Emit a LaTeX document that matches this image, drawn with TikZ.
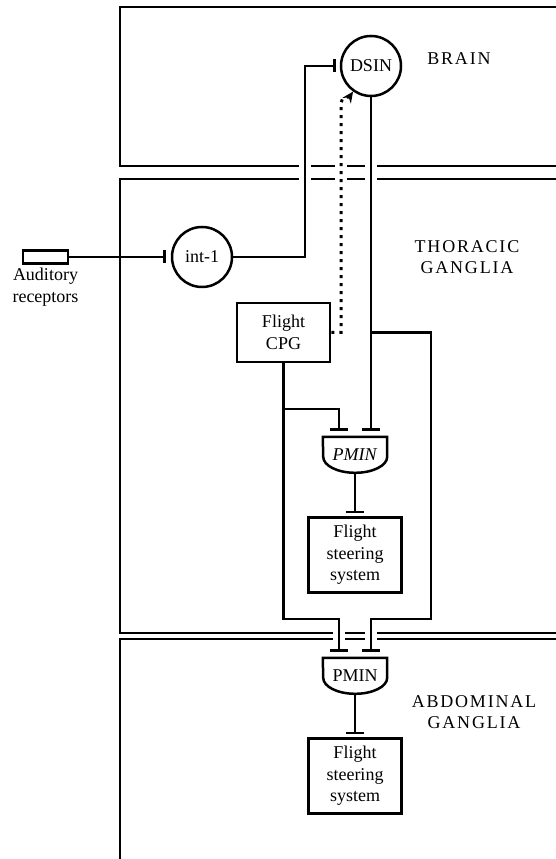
\documentclass[tikz,border=0pt]{standalone}
\usepackage{fontspec}
\setmainfont{Liberation Serif}
\usepackage{tikz}
\usetikzlibrary{arrows.meta, positioning}

\begin{document}
\begin{tikzpicture}[
    x=1pt, y=1pt,
    on grid,
    font=\fontsize{18}{21.5}\selectfont,
    panel/.style={line width=1.8pt},
    nerve/.style={line width=2.5pt},
    inhib/.style={nerve, -{Bar[width=18pt]}, shorten >=3pt},
    inhibsmall/.style={nerve, -{Bar[width=13pt]}, shorten >=4pt},
    excite/.style={
        nerve,
        line width=3pt,
        dash pattern=on 3pt off 5pt,
        -{Stealth[length=11pt, width=10pt]}
    },
    cell/.style={
        circle,
        draw,
        line width=2.5pt,
        minimum size=60pt,
        inner sep=0pt
    },
    box/.style={
        draw,
        line width=2.6pt,
        align=center,
        minimum width=93pt,
        inner sep=0pt
    },
    sensor/.style={
        draw,
        line width=2.5pt,
        minimum width=45pt,
        minimum height=13pt,
        inner sep=0pt
    },
    gate/.style={
        minimum width=64pt,
        minimum height=36pt,
        inner sep=0pt
    },
    region/.style={
        align=center,
        font=\fontsize{18}{21}\selectfont\addfontfeatures{LetterSpace=10}
    }
]

\useasboundingbox (0,0) rectangle (556,859);

% ganglia outlines
\draw[panel] (556,852) -- (120,852) -- (120,693) -- (299,693);
\draw[panel] (377,693) -- (556,693);
\draw[panel] (299,680) -- (120,680) -- (120,226) -- (333,226);
\draw[panel] (377,680) -- (556,680);
\draw[panel] (377,226) -- (556,226);
\draw[panel] (333,220) -- (120,220) -- (120,0);
\draw[panel] (377,220) -- (556,220);
\foreach \a/\b in {311/335, 347/365}
    \draw[panel] (\a,693) -- (\b,693) (\a,680) -- (\b,680);
\draw[panel] (345,226) -- (365,226) (345,220) -- (365,220);

% neurons
\node[cell] (dsin) at (371,793) {DSIN};

\node[cell, below left=191pt and 169pt of dsin] (int1) {int-1};

\node[sensor, left=156.5pt of int1] (recept) {};
\node[align=center, below=30pt of recept] (receptlbl) {Auditory\\receptors};

\node[box, minimum height=59pt, below right=75.5pt and 81.5pt of int1] (cpg) {Flight\\CPG};

\node[gate, below right=122.5pt and 71.5pt of cpg] (pmin1) {\textit{PMIN}};
\node[box, minimum height=75pt, below=100pt of pmin1] (steer1) {Flight\\steering\\system};

\node[gate, below=121pt of steer1] (pmin2) {PMIN};
\node[box, minimum height=75pt, below=100pt of pmin2] (steer2) {Flight\\steering\\system};

\foreach \p in {pmin1, pmin2}
    \draw[nerve] (\p.north west) -- (\p.north east) -- ([yshift=-20pt]\p.north east)
        arc[start angle=0, end angle=-180, x radius=32pt, y radius=16pt] -- cycle;

% region labels
\node[region, above right=7pt and 88pt of dsin] (brainlbl) {BRAIN};
\node[region, right=265pt of int1] (thorlbl) {THORACIC\\GANGLIA};
\node[region, below right=36pt and 119pt of pmin2] (abdlbl) {ABDOMINAL\\GANGLIA};

% synapse points
\coordinate (p1l) at ([shift={(-16pt,3pt)}]pmin1.north);
\coordinate (p1r) at ([shift={(16pt,3pt)}]pmin1.north);
\coordinate (p2l) at ([shift={(-16pt,3pt)}]pmin2.north);
\coordinate (p2r) at ([shift={(16pt,3pt)}]pmin2.north);
\coordinate (r1) at ([xshift=147.5pt]cpg.center);
\coordinate (d1) at ([shift={(-30pt,-37pt)}]dsin.center);

% connections
\draw[nerve, line width=1.7pt, -{Bar[width=13pt, line width=2.5pt]}, shorten >=5pt] (recept) -- (int1);
\draw[inhibsmall] (int1) -| ([xshift=-66pt]dsin.center) -- (dsin);

\draw[excite] (cpg) -| (d1) to[out=90, in=235] (dsin.235);

\draw[inhib] (dsin) -- (p1r);
\draw[inhib] (dsin) |- (r1) |- ([yshift=36pt]p2r) -- (p2r);

\draw[inhib] (cpg) |- ([yshift=25pt]p1l) -- (p1l);
\draw[inhib] (cpg) |- ([yshift=36pt]p2l) -- (p2l);

\draw[inhib] (pmin1) -- (steer1);
\draw[inhib] (pmin2) -- (steer2);

\end{tikzpicture}
\end{document}
